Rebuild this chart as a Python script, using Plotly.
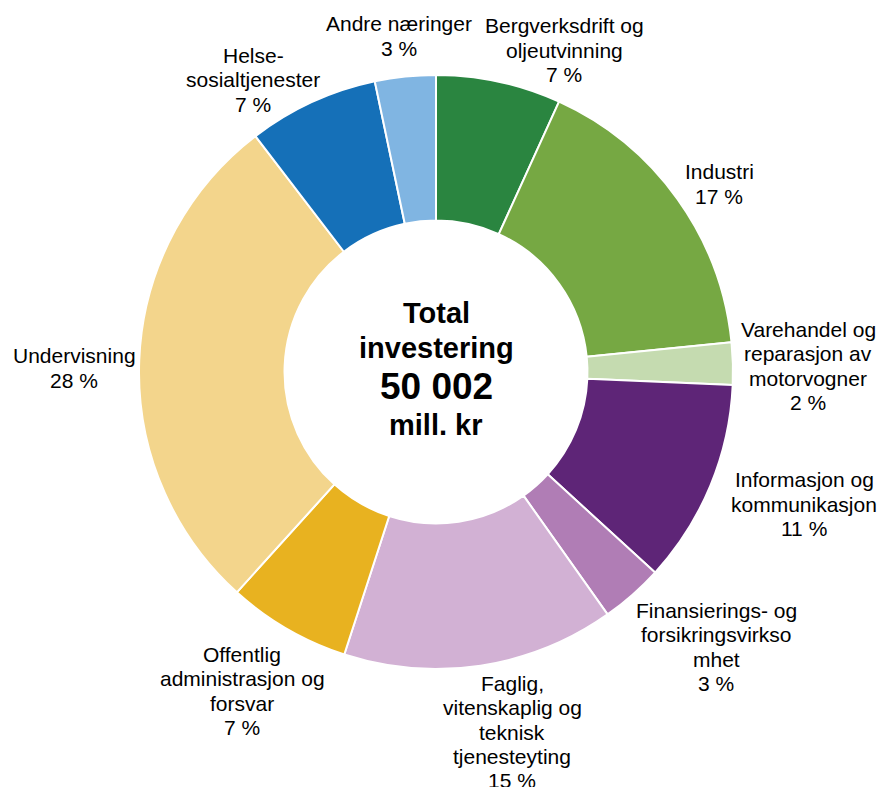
import plotly.graph_objects as go

W, H = 883, 787

categories = [
    "Bergverksdrift og<br>oljeutvinning",
    "Industri",
    "Varehandel og<br>reparasjon av<br>motorvogner",
    "Informasjon og<br>kommunikasjon",
    "Finansierings- og<br>forsikringsvirkso<br>mhet",
    "Faglig,<br>vitenskaplig og<br>teknisk<br>tjenesteyting",
    "Offentlig<br>administrasjon og<br>forsvar",
    "Undervisning",
    "Helse-<br>sosialtjenester",
    "Andre næringer",
]
values = [3400, 8300, 1150, 5550, 1700, 7400, 3350, 13950, 3550, 1652]
colors = ["#2a8540", "#76a843", "#c5dbb0", "#5e2577", "#b07db5",
          "#d2b1d4", "#e8b220", "#f3d58c", "#1570b8", "#80b5e2"]

# label block centre positions (pixels) – layout only
label_pos = [(564, 50), (719, 184), (808, 366), (804, 504), (716, 647),
             (512, 732), (242, 691), (74, 368), (253, 80), (399, 36)]

total = sum(values)

cx, cy, R = 436, 372, 297
fig = go.Figure(go.Pie(
    labels=[c.replace("<br>", " ") for c in categories],
    values=values,
    hole=0.51,
    sort=False,
    direction="clockwise",
    rotation=0,
    marker=dict(colors=colors, line=dict(color="white", width=2)),
    textinfo="none",
    hoverinfo="label+percent",
    domain=dict(x=[(cx - R) / W, (cx + R) / W],
                y=[(H - cy - R) / H, (H - cy + R) / H]),
    showlegend=False,
))

FONT = "Liberation Sans, Arial"
LH = 24.3
annotations = []
for cat, v, (px, py) in zip(categories, values, label_pos):
    pct = round(100 * v / total)
    lines = cat.split("<br>") + [f"{pct} %"]
    n = len(lines)
    for i, ln in enumerate(lines):
        ly = py + (i - (n - 1) / 2) * LH
        annotations.append(dict(
            x=px / W, y=1 - ly / H, xref="paper", yref="paper",
            text=ln, showarrow=False,
            xanchor="center", yanchor="middle", align="center",
            font=dict(family=FONT, size=21, color="#000000"),
        ))

total_str = f"{total:,}".replace(",", " ")
center_lines = [("Total", 29, 313), ("investering", 29, 348),
                (total_str, 37, 386), ("mill. kr", 29, 425)]
for txt, size, py in center_lines:
    annotations.append(dict(
        x=cx / W, y=1 - py / H, xref="paper", yref="paper",
        text=f"<b>{txt}</b>", showarrow=False,
        xanchor="center", yanchor="middle",
        font=dict(family=FONT, size=size, color="#000000"),
    ))

fig.update_layout(
    width=W, height=H,
    margin=dict(l=0, r=0, t=0, b=0),
    paper_bgcolor="white", plot_bgcolor="white",
    annotations=annotations,
)

fig.write_html(
    "out.html",
    config={"displayModeBar": False},
    post_script="document.body.style.margin='0px';document.body.style.overflow='hidden';",
)
